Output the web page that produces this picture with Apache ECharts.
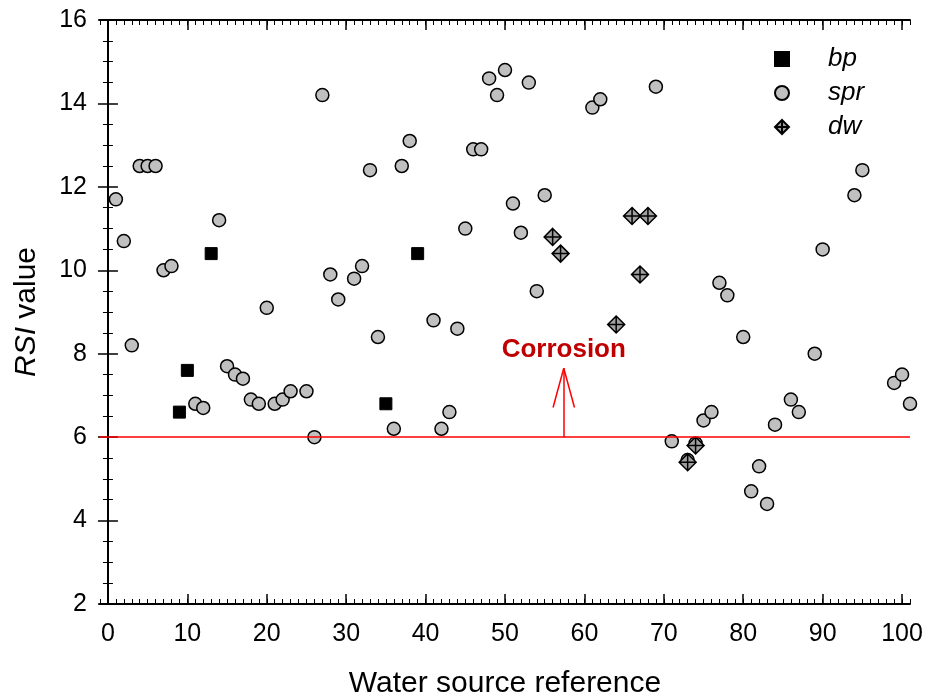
<!DOCTYPE html>
<html>
<head>
<meta charset="utf-8">
<script src="https://cdn.jsdelivr.net/npm/echarts@6/dist/echarts.min.js"></script>
<style>
  html, body { margin: 0; padding: 0; background: #fff; }
  #chart { width: 928px; height: 699px; }
</style>
</head>
<body>
<div id="chart"></div>
<script>
const bpPoints = [[9, 6.6], [10, 7.6], [13, 10.4], [35, 6.8], [39, 10.4]];

const sprPoints = [
  [1, 11.7], [2, 10.7], [3, 8.2], [4, 12.5], [5, 12.5], [6, 12.5], [7, 10.0], [8, 10.1],
  [11, 6.8], [12, 6.7], [14, 11.2], [15, 7.7], [16, 7.5], [17, 7.4], [18, 6.9], [19, 6.8],
  [20, 9.1], [21, 6.8], [22, 6.9], [23, 7.1], [25, 7.1], [26, 6.0], [27, 14.2], [28, 9.9],
  [29, 9.3], [31, 9.8], [32, 10.1], [33, 12.4], [34, 8.4], [36, 6.2], [37, 12.5], [38, 13.1],
  [41, 8.8], [42, 6.2], [43, 6.6], [44, 8.6], [45, 11.0], [46, 12.9], [47, 12.9], [48, 14.6],
  [49, 14.2], [50, 14.8], [51, 11.6], [52, 10.9], [53, 14.5], [54, 9.5], [55, 11.8],
  [61, 13.9], [62, 14.1], [69, 14.4], [71, 5.9], [73, 5.45], [74, 5.85], [75, 6.4], [76, 6.6],
  [77, 9.7], [78, 9.4], [80, 8.4], [81, 4.7], [82, 5.3], [83, 4.4], [84, 6.3], [86, 6.9],
  [87, 6.6], [89, 8.0], [90, 10.5], [94, 11.8], [95, 12.4], [99, 7.3], [100, 7.5], [101, 6.8]
];

const dwPoints = [[56, 10.8], [57, 10.4], [64, 8.7], [66, 11.3], [67, 9.9], [68, 11.3], [73, 5.4], [74, 5.8]];

const xMajorTicks = [0, 10, 20, 30, 40, 50, 60, 70, 80, 90, 100];
const corrosionLimit = 6;
const arrowX = 57.4;
const arrowTip = 7.65;
const labelY = 8.09;

const chart = echarts.init(document.getElementById("chart"));
const font = "Liberation Sans, Arial, sans-serif";
const diamondCross = "path://M10,0 L20,10 L10,20 L0,10 Z M10,0 L10,20 M0,10 L20,10";

function xAxisBase(position) {
  return {
    type: "value",
    position: position,
    min: -1,
    max: 101,
    splitLine: { show: false },
  };
}

chart.setOption({
  animation: false,
  textStyle: { fontFamily: font },
  grid: { left: 100, right: 18, top: 20, bottom: 95, containLabel: false, outerBoundsMode: "none" },
  legend: {
    data: ["bp", "spr", "dw"],
    orient: "vertical",
    left: 769,
    top: 41,
    itemWidth: 14,
    itemHeight: 14,
    itemGap: 8,
    textStyle: { fontSize: 26, fontStyle: "italic", color: "#000", padding: [0, 0, 0, 34] },
  },
  xAxis: [
    Object.assign(xAxisBase("bottom"), {
      interval: 1,
      axisLine: { lineStyle: { color: "#000", width: 2 } },
      axisTick: { inside: true, length: 5, lineStyle: { color: "#000", width: 1 } },
      axisLabel: { show: false },
    }),
    Object.assign(xAxisBase("bottom"), {
      axisLine: { show: false },
      axisTick: { inside: true, length: 10, customValues: xMajorTicks, lineStyle: { color: "#000", width: 1.5 } },
      axisLabel: { customValues: xMajorTicks, fontSize: 25, color: "#000", margin: 18 },
      name: "Water source reference",
      nameLocation: "middle",
      nameGap: 65,
      nameTextStyle: { fontSize: 30, color: "#000" },
    }),
    Object.assign(xAxisBase("top"), {
      interval: 1,
      axisLine: { lineStyle: { color: "#000", width: 2 } },
      axisTick: { inside: true, length: 5, lineStyle: { color: "#000", width: 1 } },
      axisLabel: { show: false },
    }),
    Object.assign(xAxisBase("top"), {
      axisLine: { show: false },
      axisTick: { inside: true, length: 10, customValues: xMajorTicks, lineStyle: { color: "#000", width: 1.5 } },
      axisLabel: { show: false },
    }),
  ],
  yAxis: [
    {
      type: "value",
      position: "left",
      min: 2,
      max: 16,
      interval: 2,
      splitLine: { show: false },
      axisLine: { show: true, lineStyle: { color: "#000", width: 2 } },
      axisTick: { show: true, inside: true, length: 10, lineStyle: { color: "#000", width: 1.5 } },
      minorTick: { show: true, splitNumber: 4, length: 5, lineStyle: { color: "#000", width: 1 } },
      axisLabel: { fontSize: 25, color: "#000", margin: 13 },
      name: "{i|RSI} value",
      nameLocation: "middle",
      nameGap: 58,
      nameTextStyle: {
        fontSize: 30,
        color: "#000",
        rich: { i: { fontSize: 30, fontStyle: "italic", color: "#000" } },
      },
    },
    {
      type: "value",
      position: "right",
      min: 2,
      max: 16,
      interval: 2,
      splitLine: { show: false },
      axisLine: { show: true, lineStyle: { color: "#000", width: 2 } },
      axisTick: { show: true, inside: true, length: 10, lineStyle: { color: "#000", width: 1.5 } },
      minorTick: { show: true, splitNumber: 4, length: 5, lineStyle: { color: "#000", width: 1 } },
      axisLabel: { show: false },
    },
  ],
  series: [
    {
      name: "bp",
      type: "scatter",
      clip: false,
      symbol: "rect",
      symbolSize: 12,
      itemStyle: { color: "#000", borderColor: "#000", borderWidth: 1, opacity: 1 },
      data: bpPoints,
    },
    {
      name: "spr",
      type: "scatter",
      clip: false,
      symbol: "circle",
      symbolSize: 13,
      itemStyle: { color: "#c0c0c0", borderColor: "#000", borderWidth: 1.5, opacity: 1 },
      data: sprPoints,
      markLine: {
        silent: true,
        symbol: "none",
        label: { show: false },
        lineStyle: { color: "#ff0000", width: 1.5, type: "solid" },
        data: [
          { yAxis: corrosionLimit },
          [{ coord: [arrowX, corrosionLimit] }, { coord: [arrowX, arrowTip] }],
          [{ coord: [arrowX, arrowTip] }, { coord: [arrowX - 1.35, arrowTip - 0.94] }],
          [{ coord: [arrowX, arrowTip] }, { coord: [arrowX + 1.35, arrowTip - 0.94] }],
        ],
      },
      markPoint: {
        silent: true,
        symbol: "rect",
        symbolSize: 1,
        itemStyle: { color: "transparent" },
        label: {
          show: true,
          position: "inside",
          formatter: "Corrosion",
          fontSize: 26,
          fontWeight: "bold",
          color: "#c00000",
        },
        data: [{ coord: [arrowX, labelY] }],
      },
    },
    {
      name: "dw",
      type: "scatter",
      clip: false,
      symbol: diamondCross,
      symbolSize: 17,
      itemStyle: { color: "#a0a0a0", borderColor: "#000", borderWidth: 1.5, opacity: 1 },
      data: dwPoints,
    },
  ],
});

window.addEventListener("resize", () => chart.resize());
</script>
</body>
</html>
